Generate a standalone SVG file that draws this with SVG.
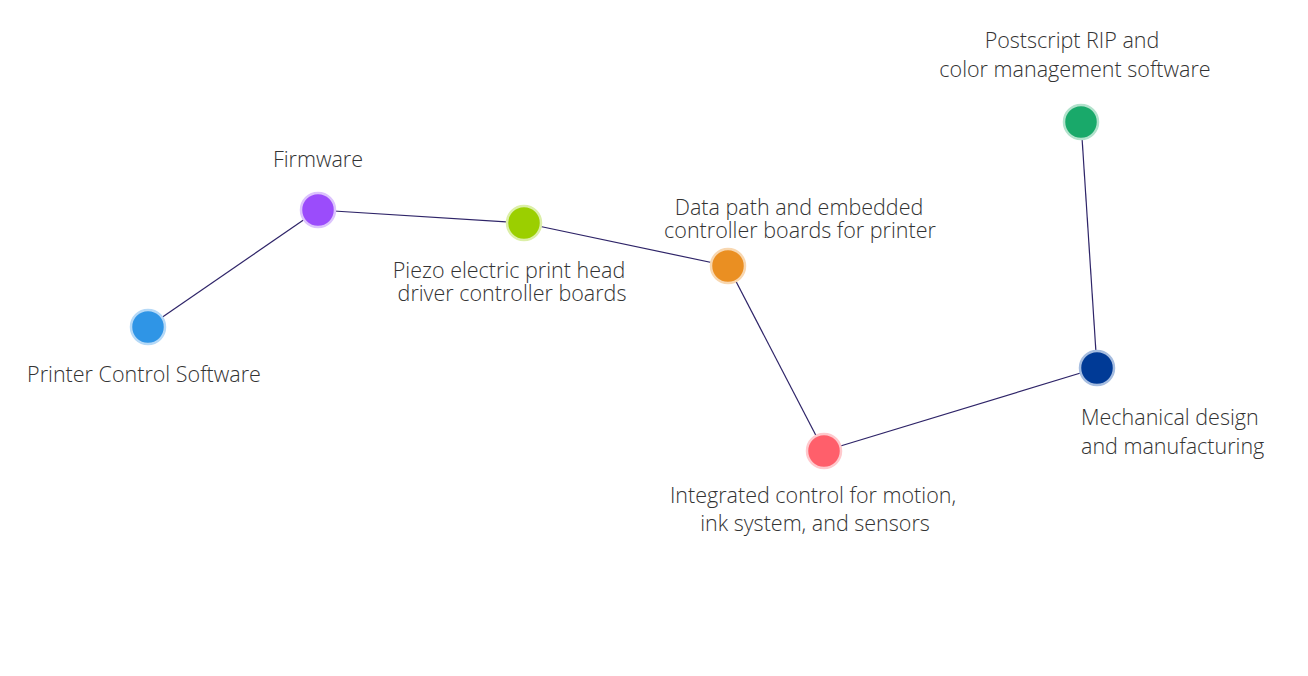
<svg xmlns="http://www.w3.org/2000/svg" width="1308" height="676" viewBox="0 0 1308 676">
<style>
.lbl{font-family:"Open Sans","Noto Sans","Liberation Sans",sans-serif;font-weight:300;font-size:21.5px;fill:#333333}
.mid{text-anchor:middle}
.edge{stroke:#2e2468;stroke-width:1.2;fill:none}
.dot{stroke-width:2.5}
</style>
<rect width="1308" height="676" fill="#ffffff"/>
<g id="edges">
<line class="edge" x1="148" y1="327" x2="318" y2="210"/>
<line class="edge" x1="318" y1="210" x2="524" y2="223"/>
<line class="edge" x1="524" y1="223" x2="728" y2="266"/>
<line class="edge" x1="728" y1="266" x2="824" y2="451"/>
<line class="edge" x1="824" y1="451" x2="1097" y2="368"/>
<line class="edge" x1="1097" y1="368" x2="1081" y2="122"/>
</g>
<g id="node-printer-control">
<circle class="dot" cx="148" cy="327" r="17" fill="#2f95e6" stroke="#b5d9f7"/>
<text class="lbl mid" x="144" y="382">Printer Control Software</text>
</g>
<g id="node-firmware">
<circle class="dot" cx="318" cy="210" r="17" fill="#9b4cfb" stroke="#dcc3fd"/>
<text class="lbl mid" x="318" y="167">Firmware</text>
</g>
<g id="node-piezo">
<circle class="dot" cx="524" cy="223" r="17" fill="#9bcf00" stroke="#dcefa8"/>
<text class="lbl mid" x="509" y="278">Piezo electric print head</text>
<text class="lbl mid" x="512" y="301">driver controller boards</text>
</g>
<g id="node-datapath">
<circle class="dot" cx="728" cy="266" r="17" fill="#ea8f22" stroke="#f8d7b0"/>
<text class="lbl mid" x="799" y="215">Data path and embedded</text>
<text class="lbl mid" x="800" y="238">controller boards for printer</text>
</g>
<g id="node-integrated">
<circle class="dot" cx="824" cy="451" r="17" fill="#ff5f6b" stroke="#ffc9cd"/>
<text class="lbl mid" x="813" y="503">Integrated control for motion,</text>
<text class="lbl mid" x="815" y="531">ink system, and sensors</text>
</g>
<g id="node-mechanical">
<circle class="dot" cx="1097" cy="368" r="17" fill="#003a96" stroke="#a6bde0"/>
<text class="lbl" x="1081" y="425">Mechanical design</text>
<text class="lbl" x="1081" y="454">and manufacturing</text>
</g>
<g id="node-postscript">
<circle class="dot" cx="1081" cy="122" r="17" fill="#19a96a" stroke="#b2e2cc"/>
<text class="lbl mid" x="1072" y="48">Postscript RIP and</text>
<text class="lbl mid" x="1075" y="77">color management software</text>
</g>
</svg>
